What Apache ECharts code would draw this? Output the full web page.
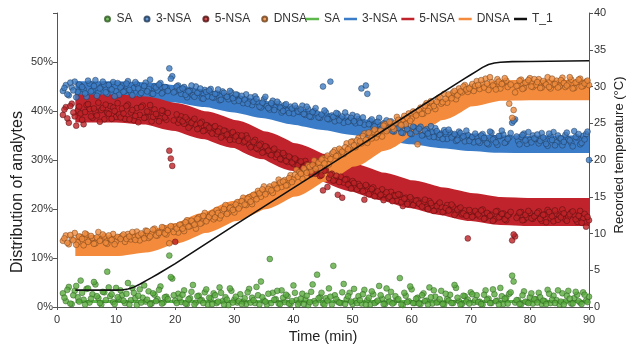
<!DOCTYPE html>
<html><head><meta charset="utf-8">
<script src="https://cdn.jsdelivr.net/npm/echarts@6/dist/echarts.min.js"></script>
<style>html,body{margin:0;padding:0;background:#fff}#c{width:628px;height:344px}</style>
</head><body><div id="c"></div>
<script>
// sampling of the measured points (min): set A at 1.0, 1.5 ... ; set B at 1.25, 1.75 ...
const T0 = 1, DT = 0.5;

// measured distribution (%)
const saPts = [
2.8,1.2,4.1,0.6,3.3,2.0,5.4,1.5,3.7,0.9,2.6,4.6,1.8,0.5,3.0,7.2,2.2,1.0,3.9,1.6,
2.4,0.8,4.9,1.4,2.9,0.4,3.6,1.9,1.1,3.2,0.7,2.5,1.6,4.2,0.9,2.1,10.5,5.8,1.3,2.7,
1.0,3.4,0.6,1.8,4.5,0.9,2.3,1.4,3.0,0.5,1.7,2.8,0.8,4.0,1.2,2.0,0.4,3.3,1.5,0.9,
2.6,1.1,0.6,3.7,1.9,0.8,2.4,5.2,1.3,0.5,9.8,2.9,1.6,0.7,3.4,1.0,2.2,0.6,4.4,1.4,
0.9,2.7,1.5,0.4,3.1,1.2,6.6,2.0,0.7,1.8,3.8,0.5,2.4,1.1,0.8,4.7,1.6,2.9,0.6,1.3,
2.2,0.7,3.5,1.4,0.5,2.6,1.0,4.3,1.7,0.6,2.0,3.1,0.9,1.5,5.9,0.4,2.3,1.2,3.6,0.8,
1.9,0.6,2.8,1.3,4.0,0.7,2.1,1.0,3.3,0.5,1.6,2.5,0.8,3.9,1.2,0.6,2.2,1.5,3.0,0.9,
2.4,1.1,0.5,3.4,1.7,0.8,2.6,1.3,3.9,0.6,1.9,2.7,6.4,0.9,1.4,0.5,3.2,1.0,2.0,0.7,
1.6,2.9,0.6,1.2,3.5,0.8,2.3,1.4,0.5,2.8,1.1,3.3,0.7,1.8,2.5,0.9,3.0,1.3,2.1];
const saPtsB = [
1.9,3.5,0.7,2.4,4.3,1.1,2.9,0.5,3.8,1.7,5.1,2.2,0.8,3.1,1.4,4.0,2.6,0.6,2.0,3.4,
1.3,2.7,0.5,3.9,1.8,2.3,0.9,4.4,1.5,0.6,2.8,1.2,3.5,0.7,2.0,1.6,6.1,2.4,0.8,1.9,
2.5,0.7,1.6,3.1,0.5,2.2,1.3,0.8,3.6,1.9,0.6,2.4,1.1,2.9,0.5,1.5,3.8,0.9,2.1,1.2,
0.6,1.8,3.0,0.9,1.4,4.1,0.5,2.0,1.1,2.7,0.8,1.5,3.3,0.6,1.9,2.5,0.7,1.2,2.9,0.5,
1.7,0.6,2.3,1.0,4.6,0.7,1.8,2.9,0.5,1.3,2.1,8.4,1.6,0.9,3.0,0.6,2.2,1.1,3.7,0.8,
1.4,2.6,0.5,1.9,3.2,0.8,1.3,2.4,0.6,3.8,1.1,0.7,2.2,1.6,0.5,2.9,1.0,4.2,0.8,1.7,
0.7,2.4,1.2,0.5,2.0,3.4,0.9,1.6,0.6,2.7,1.3,0.8,4.5,1.9,0.5,2.3,1.1,0.7,2.6,1.4,
1.0,0.6,2.5,1.5,0.8,3.6,1.2,0.5,2.2,1.7,0.7,3.0,5.2,1.4,0.6,2.4,1.1,0.8,2.8,1.6,
0.9,2.0,1.3,0.6,2.7,1.5,0.8,3.4,1.1,0.5,2.3,1.7,0.7,3.1,1.2,0.6,2.5,1.0];
const nsa3Pts = [
44.1,45.3,43.2,44.8,46.0,43.9,45.1,44.4,42.9,45.6,44.2,46.3,43.7,44.9,45.4,43.5,44.6,45.9,44.0,43.3,
45.2,44.1,46.1,43.8,44.7,45.5,43.4,44.3,45.8,44.5,43.6,45.0,44.2,45.7,43.9,44.8,48.7,47.1,44.0,45.2,
43.5,44.9,42.8,44.1,43.2,45.0,43.8,42.6,44.3,43.0,44.5,42.7,43.6,42.2,44.0,43.1,42.4,43.8,42.0,43.3,
42.5,41.6,43.4,42.0,41.2,43.0,41.8,40.7,42.4,41.0,40.3,42.1,40.8,41.5,39.7,41.2,40.1,40.9,39.5,40.6,
39.8,41.1,39.2,40.4,38.8,40.0,39.5,38.6,45.0,39.7,38.3,39.1,37.9,39.4,38.5,37.6,38.9,38.0,39.2,37.5,
38.4,44.6,37.2,43.5,38.0,36.8,37.7,38.6,36.5,37.4,36.2,37.9,35.8,37.0,36.4,35.5,36.9,36.0,35.3,36.6,
35.9,36.8,35.2,36.3,34.8,35.7,36.5,34.6,35.4,36.1,34.3,35.6,34.9,33.9,35.8,34.5,33.8,35.1,34.2,33.6,
34.8,33.5,35.3,34.0,33.2,35.6,34.4,33.1,34.9,35.2,33.7,34.6,37.6,38.3,33.9,34.7,35.4,33.3,34.1,35.0,
34.3,33.4,35.5,34.0,32.9,34.8,35.7,33.6,34.5,33.0,35.1,34.2,33.5,35.9,34.6,33.2,34.9,35.3,30.0];
const nsa3PtsB = [
44.7,43.4,45.8,44.2,42.8,45.4,44.9,43.6,46.2,44.0,45.1,43.1,44.6,46.0,43.8,45.3,44.4,43.0,45.7,44.8,
43.9,45.6,44.3,43.2,45.9,44.6,43.7,45.1,44.0,46.4,43.5,44.8,45.4,43.6,44.9,44.1,46.6,43.8,45.0,44.3,
44.6,43.3,44.0,45.2,42.9,43.7,44.6,42.5,43.9,44.2,42.8,43.5,44.4,42.3,43.7,42.9,44.1,42.6,43.4,42.1,
43.1,42.3,41.5,42.8,41.9,42.5,40.9,41.7,42.9,40.6,41.6,40.2,41.9,40.7,40.0,41.4,39.6,40.5,41.1,39.9,
40.3,39.4,40.9,38.9,39.8,40.6,38.7,39.3,40.1,38.4,46.0,38.8,39.6,38.1,38.9,39.7,37.8,38.6,37.9,38.9,
37.6,38.7,45.2,37.3,38.3,36.9,37.8,36.3,37.5,38.1,36.7,35.9,37.3,36.5,35.6,37.1,36.3,35.4,36.8,35.8,
36.4,35.0,36.0,35.4,36.9,34.7,35.9,35.1,34.3,35.7,36.2,34.6,35.3,34.1,35.5,34.8,36.0,33.9,34.7,35.4,
33.8,35.0,34.5,33.4,35.8,34.2,33.6,34.9,36.0,33.5,34.3,35.5,38.0,34.8,33.2,35.1,34.0,35.7,33.6,34.4,
35.2,33.9,34.6,33.3,35.4,34.1,33.0,35.0,34.4,33.7,35.6,34.0,32.8,34.7,35.3,33.5,34.2,35.8];
const nsa5Pts = [
39.2,40.8,37.6,41.5,38.9,40.1,39.5,37.3,41.2,40.4,38.6,39.9,41.7,40.2,38.3,39.6,41.0,40.7,38.8,39.3,
40.5,38.4,41.3,39.7,38.1,40.6,39.2,41.1,38.7,39.8,37.9,40.3,39.0,38.5,40.0,38.2,31.9,28.8,13.3,37.6,
38.9,37.4,38.3,36.9,38.0,37.2,36.5,37.8,36.1,37.0,35.8,36.7,35.3,36.4,34.9,35.9,34.6,35.5,34.2,35.1,
34.5,33.6,35.0,33.1,32.8,34.1,32.2,33.3,31.7,32.6,31.2,32.0,30.6,31.5,30.1,31.0,29.6,30.4,29.2,30.0,
29.4,28.5,29.8,28.0,27.1,28.8,27.6,26.7,23.8,27.9,26.3,27.2,25.9,22.9,26.6,25.4,26.1,24.9,25.7,24.5,
25.1,24.2,21.9,24.6,23.7,24.4,23.3,22.6,24.0,23.1,22.2,23.5,22.8,21.7,22.9,20.6,22.3,21.5,22.0,21.2,
21.8,20.9,21.4,20.3,21.6,20.7,19.8,21.0,20.4,19.5,20.8,19.9,20.5,19.2,20.1,18.9,19.7,14.0,19.4,18.7,
19.3,18.5,19.9,18.2,19.0,18.8,17.9,19.6,18.4,19.1,17.7,18.9,13.6,14.4,18.6,19.4,17.8,18.3,19.2,18.0,
18.7,19.5,17.6,18.9,19.8,18.1,17.5,19.0,18.6,19.9,17.9,18.4,19.3,18.8,17.4,19.6,18.2,16.4,17.7];
const nsa5PtsB = [
40.3,38.5,41.0,39.7,37.0,40.9,38.2,39.8,41.4,38.9,40.5,39.1,37.8,40.6,41.3,39.4,38.4,40.0,41.6,38.7,
39.5,41.0,38.3,40.2,39.0,37.7,40.8,38.6,39.9,41.2,38.8,39.4,37.9,40.1,38.7,39.6,30.3,38.1,39.3,38.2,
37.9,38.7,36.6,37.6,38.4,36.3,37.5,35.9,37.1,36.6,35.4,36.9,35.8,34.6,36.0,35.2,34.1,35.7,34.8,33.9,
35.0,33.8,34.4,32.6,33.7,32.4,33.0,31.5,32.8,31.9,31.0,32.3,31.1,30.2,31.4,29.8,30.7,29.5,30.3,28.9,
29.7,28.6,29.1,27.7,28.9,27.2,28.3,26.9,27.8,24.5,27.0,25.8,26.8,25.5,22.3,26.0,25.0,24.2,25.3,24.0,
24.7,23.6,24.9,23.0,24.1,22.6,23.6,22.9,21.8,23.4,22.5,21.6,22.7,23.0,21.4,22.1,21.0,22.4,20.8,21.7,
21.1,20.5,21.9,20.0,21.2,19.6,20.6,21.3,19.4,20.2,19.7,20.9,18.8,19.9,20.3,19.1,18.6,19.8,18.4,19.6,
18.9,19.7,18.0,19.2,18.6,17.6,19.5,18.3,19.0,17.9,18.7,19.4,14.8,18.2,19.3,17.7,18.8,19.6,18.1,18.5,
19.2,18.0,18.8,17.3,19.4,18.5,19.7,17.8,18.3,19.1,17.6,18.9,19.5,17.9,18.6,17.2,19.0,18.4];
const dnsaPts = [
13.5,14.6,12.8,13.9,15.1,13.2,14.3,12.6,14.8,13.7,14.1,13.0,15.3,13.8,14.4,12.9,14.0,14.9,13.4,14.2,
14.5,13.3,14.9,13.8,14.2,15.4,13.6,14.7,15.6,14.1,14.9,16.0,14.6,15.3,16.2,14.8,13.0,15.9,16.4,15.2,
16.8,15.5,17.7,16.5,17.2,16.0,18.3,17.2,19.2,18.0,18.8,17.9,19.8,18.1,19.5,20.8,19.3,20.4,19.3,21.4,
20.6,22.3,20.8,22.4,21.0,22.7,23.7,22.5,24.6,23.5,24.6,23.3,24.9,26.0,24.5,25.9,24.9,26.9,26.1,28.0,
27.5,26.2,27.9,28.9,27.7,29.9,28.7,28.4,30.4,30.1,29.1,31.3,32.0,30.9,32.0,31.2,33.4,32.5,33.8,32.6,
34.5,33.4,35.4,33.5,35.1,35.8,34.6,35.8,34.8,37.3,36.4,37.4,36.3,38.8,37.4,38.3,37.3,39.5,38.4,39.7,
33.2,40.7,39.5,41.6,40.6,41.5,40.4,42.6,41.5,43.5,41.7,43.2,43.8,42.4,44.6,43.8,45.3,43.9,44.9,44.1,
46.1,44.5,45.6,46.6,44.3,45.9,45.0,46.5,44.6,45.8,46.2,41.5,38.6,43.8,45.2,46.4,44.7,45.9,46.7,44.9,
45.3,46.5,44.8,45.7,46.9,44.6,45.4,46.2,45.0,46.8,44.9,45.6,46.4,44.7,45.9,46.6,45.1,46.0,45.3];
const dnsaPtsB = [
14.0,13.1,14.7,13.6,12.7,14.4,13.9,15.0,13.3,14.5,12.9,14.2,13.5,14.8,13.1,14.6,13.7,12.8,14.3,13.9,
14.8,13.9,14.4,15.3,13.7,14.6,15.0,14.0,15.5,14.4,15.8,14.6,15.1,16.3,15.0,15.7,16.5,15.3,16.0,16.8,
16.0,17.3,16.4,17.6,16.8,18.0,17.0,18.6,17.5,18.4,19.1,18.3,19.2,18.7,20.0,19.0,20.2,19.8,20.9,20.1,
21.6,20.9,22.1,21.5,22.9,22.0,23.2,24.0,23.0,24.1,23.8,25.0,24.2,25.4,25.6,24.8,26.3,25.5,27.0,26.6,
27.2,28.3,27.4,28.6,29.0,28.2,29.5,30.1,29.3,30.9,30.2,31.6,30.8,32.3,31.7,32.6,32.2,33.7,33.0,34.0,
33.8,34.9,34.1,35.6,34.4,36.2,35.3,36.0,37.0,35.9,37.8,36.8,37.6,38.2,37.1,39.0,38.6,38.0,39.9,39.1,
40.2,39.4,41.1,40.0,42.0,41.0,41.9,42.8,41.8,42.5,43.4,42.6,44.1,43.2,44.0,45.0,44.4,44.6,45.5,45.1,
45.3,46.3,44.8,45.6,46.9,45.2,44.4,46.0,45.5,46.7,44.9,45.4,40.2,45.1,46.2,44.5,45.8,46.3,45.0,46.5,
45.9,44.7,46.1,45.4,44.9,46.6,45.5,44.8,46.3,45.7,45.2,46.9,44.6,45.8,46.4,45.0,45.6,46.2];

// model bands (%): times and centre values
const bandT = [3.1,5,10,15,20,25,30,35,40,45,50,55,60,65,70,75,80,85,90];
const saBandV   = [1.1,1.1,1.1,1.1,1.1,1.1,1.1,1.1,1.1,1.1,1.1,1.1,1.1,1.1,1.1,1.1,1.1,1.1,1.1];
const nsa3BandV = [44.3,44.3,44.3,44.1,43.5,42.6,41.5,40.3,39.0,37.9,36.9,35.9,35.0,34.2,33.6,33.25,33.2,33.2,33.2];
const nsa5BandV = [40.5,40.5,40.5,40.1,38.8,37.1,35.3,33.0,30.6,28.4,26.4,24.6,23.0,21.6,20.4,19.6,19.4,19.4,19.4];
const dnsaBandV = [12.5,12.5,12.5,13.2,15.0,17.2,19.6,22.0,24.6,27.6,30.7,33.9,37.1,40.2,43.0,44.2,44.3,44.3,44.3];

// recorded temperature (°C)
const tempT = [3.1,10,11,12,13,14,15,16,17,20,30,40,50,60,68,69,70,71,72,73,74,75,77,80,90];
const tempV = [2.3,2.3,2.32,2.45,2.7,3.1,3.55,4.0,4.45,5.9,11.1,16.2,21.3,26.5,30.6,31.1,31.6,32.1,32.6,33.0,33.2,33.3,33.38,33.4,33.5];

const FONT = "'Liberation Sans', Arial, sans-serif";
const pts = (a, b) => a.map((v, i) => [T0 + i * DT, v]).concat(b.map((v, i) => [T0 + DT / 2 + i * DT, v]));
const zip = (t, v) => t.map((x, i) => [x, v[i]]);

function scatter(name, a, b, fill, border) {
  return { name, type: 'scatter', data: pts(a, b), symbolSize: 5.8, z: 3,
    itemStyle: { color: fill, borderColor: border, borderWidth: 0.6 } };
}
function band(name, v, color, w) {
  return { name, type: 'line', data: zip(bandT, v), symbol: 'none', smooth: 0.25, smoothMonotone: 'x', z: 2,
    lineStyle: { color, width: w, cap: 'butt', join: 'round' }, itemStyle: { color } };
}

const chart = echarts.init(document.getElementById('c'), null, { renderer: 'canvas' });
chart.setOption({
  animation: false,
  textStyle: { fontFamily: FONT },
  grid: { left: 57, right: 39, top: 13, bottom: 37, containLabel: false, outerBoundsMode: 'none' },
  legend: [
    { left: 104, top: 13, padding: 0, itemWidth: 8, itemHeight: 5, itemGap: 11,
      textStyle: { fontSize: 12, color: '#333', fontFamily: FONT },
      data: ['SA','3-NSA','5-NSA','DNSA'].map(n => ({ name: n, icon: 'circle' })) },
    { left: 306, top: 13, padding: 0, itemWidth: 13, itemHeight: 2.5, itemGap: 4,
      textStyle: { fontSize: 12, color: '#333', fontFamily: FONT },
      formatter: n => n.replace('#', ''),
      data: ['SA#','3-NSA#','5-NSA#','DNSA#','T_1'].map(n => ({ name: n, icon: 'rect' })) }
  ],
  graphic: [
    { type: 'text', x: 18, y: 192, rotation: Math.PI / 2, silent: true,
      style: { text: 'Distribution of analytes', fontSize: 16, fontFamily: FONT, fill: '#222',
        textAlign: 'center', textVerticalAlign: 'middle' } },
    { type: 'text', x: 619, y: 155, rotation: Math.PI / 2, silent: true,
      style: { text: 'Recorded temperature (°C)', fontSize: 13, fontFamily: FONT, fill: '#222',
        textAlign: 'center', textVerticalAlign: 'middle' } }
  ],
  xAxis: { type: 'value', min: 0, max: 90, interval: 10,
    name: 'Time (min)', nameLocation: 'middle', nameGap: 20,
    nameTextStyle: { fontSize: 14.5, color: '#222', fontFamily: FONT },
    axisLine: { lineStyle: { color: '#555', width: 1 } },
    axisTick: { show: true, length: 3, lineStyle: { color: '#555' } },
    axisLabel: { fontSize: 11, color: '#333', margin: 7 },
    splitLine: { show: false } },
  yAxis: [
    { type: 'value', min: 0, max: 60, interval: 10, position: 'left',
      axisLine: { show: true, lineStyle: { color: '#555', width: 1 } },
      axisTick: { show: true, length: 4, lineStyle: { color: '#555' } },
      axisLabel: { fontSize: 11, color: '#333', margin: 4, formatter: v => v === 60 ? '' : v + '%' },
      splitLine: { show: false } },
    { type: 'value', min: 0, max: 40, interval: 5, position: 'right',
      axisLine: { show: true, lineStyle: { color: '#555', width: 1 } },
      axisTick: { show: true, length: 4, lineStyle: { color: '#555' } },
      axisLabel: { fontSize: 11, color: '#333', margin: 5 },
      splitLine: { show: false } }
  ],
  series: [
    band('SA#', saBandV, '#5cb84a', 3),
    band('3-NSA#', nsa3BandV, '#3b7cc8', 17.5),
    band('5-NSA#', nsa5BandV, '#c0232b', 28),
    band('DNSA#', dnsaBandV, '#f48a3b', 20.5),
    scatter('SA', saPts, saPtsB, '#5aab3e', '#2b5a1f'),
    scatter('3-NSA', nsa3Pts, nsa3PtsB, '#3d7cc4', '#1c3553'),
    scatter('5-NSA', nsa5Pts, nsa5PtsB, '#bd2227', '#4d0d0d'),
    scatter('DNSA', dnsaPts, dnsaPtsB, '#ee8a3c', '#6d3e18'),
    { name: 'T_1', type: 'line', yAxisIndex: 1, data: zip(tempT, tempV), symbol: 'none',
      smooth: false, z: 4,
      lineStyle: { color: '#111', width: 1.6, join: 'round' }, itemStyle: { color: '#111' } }
  ]
});
</script></body></html>
